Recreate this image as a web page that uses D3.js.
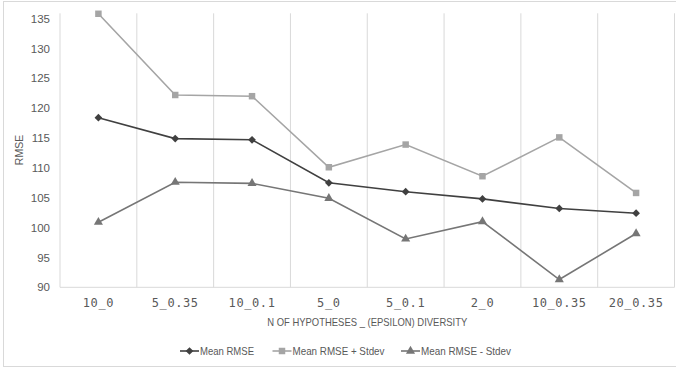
<!DOCTYPE html>
<html>
<head>
<meta charset="utf-8">
<script src="https://cdn.jsdelivr.net/npm/d3@7/dist/d3.min.js"></script>
<style>
  html, body { margin: 0; padding: 0; background: #fff; }
  svg { display: block; }
</style>
</head>
<body>
<svg id="chart" width="676" height="369"></svg>
<script>
// Categories: number of hypotheses _ epsilon diversity
const categories = ["10_0", "5_0.35", "10_0.1", "5_0", "5_0.1", "2_0", "10_0.35", "20_0.35"];
const meanRmse     = [118.4, 114.9, 114.7, 107.5, 106.0, 104.8, 103.2, 102.4];
const meanPlusStd  = [135.8, 122.2, 122.0, 110.1, 113.9, 108.6, 115.1, 105.8];
const meanMinusStd = [100.9, 107.6, 107.4, 104.9, 98.1, 101.0, 91.3, 99.0];
const yTicks = [90, 95, 100, 105, 110, 115, 120, 125, 130, 135];

// square diamond (a square turned 45 degrees)
const symbolSquareDiamond = {
  draw(context, size) {
    const r = Math.sqrt(size / 2);
    context.moveTo(0, -r);
    context.lineTo(r, 0);
    context.lineTo(0, r);
    context.lineTo(-r, 0);
    context.closePath();
  }
};

const series = [
  { name: "Mean RMSE", values: meanRmse, color: "#404040", symbol: symbolSquareDiamond, size: 30 },
  { name: "Mean RMSE + Stdev", values: meanPlusStd, color: "#a5a5a5", symbol: d3.symbolSquare, size: 42 },
  { name: "Mean RMSE - Stdev", values: meanMinusStd, color: "#767676", symbol: d3.symbolTriangle, size: 36 }
];

const svg = d3.select("#chart");
const W = 676;
const plot = { left: 60, right: 674.5, top: 13.3, bottom: 287.3 };
const textFont = "Liberation Sans, Arial, sans-serif";

// chart frame
svg.append("rect")
  .attr("x", 3.5).attr("y", 1.5).attr("width", W + 4).attr("height", 365)
  .attr("fill", "none").attr("stroke", "#d9d9d9").attr("stroke-width", 1);

const x = d3.scaleBand().domain(categories).range([plot.left, plot.right]).padding(0);
const y = d3.scaleLinear().domain([90, 135.88]).range([plot.bottom, plot.top]);

// vertical gridlines between categories
const bounds = categories.map(c => x(c)).concat([x(categories[categories.length - 1]) + x.bandwidth()]);
svg.append("g").selectAll("line").data(bounds).join("line")
  .attr("x1", d => d).attr("x2", d => d)
  .attr("y1", plot.top).attr("y2", plot.bottom)
  .attr("stroke", "#d9d9d9").attr("stroke-width", 1);

// baseline
svg.append("line")
  .attr("x1", plot.left).attr("x2", plot.right)
  .attr("y1", plot.bottom).attr("y2", plot.bottom)
  .attr("stroke", "#d9d9d9").attr("stroke-width", 1);

// y axis labels
const yAxis = d3.axisLeft(y).tickValues(yTicks).tickSize(0).tickPadding(10);
const yg = svg.append("g").attr("transform", `translate(${plot.left},0)`).call(yAxis);
yg.select(".domain").remove();
yg.selectAll("text")
  .attr("font-family", textFont)
  .attr("font-size", 11.5).attr("fill", "#595959");

// x axis labels
const xAxis = d3.axisBottom(x).tickSize(0).tickPadding(11);
const xg = svg.append("g").attr("transform", `translate(0,${plot.bottom})`).call(xAxis);
xg.select(".domain").remove();
xg.selectAll("text")
  .attr("font-family", "DejaVu Sans Mono, monospace")
  .attr("font-size", 12).attr("fill", "#595959")
  .attr("letter-spacing", "0.6px");

// axis titles
svg.append("text")
  .attr("transform", "translate(23,150) rotate(-90)")
  .attr("text-anchor", "middle")
  .attr("font-family", textFont)
  .attr("font-size", 10.5).attr("fill", "#595959")
  .text("RMSE");

svg.append("text")
  .attr("x", (plot.left + plot.right) / 2).attr("y", 326)
  .attr("text-anchor", "middle")
  .attr("font-family", textFont)
  .attr("font-size", 11).attr("fill", "#595959")
  .attr("textLength", 200).attr("lengthAdjust", "spacingAndGlyphs")
  .text("N OF HYPOTHESES _ (EPSILON) DIVERSITY");

// series lines and markers
const line = d3.line().x((d, i) => x(categories[i]) + x.bandwidth() / 2).y(d => y(d));
series.forEach(s => {
  svg.append("path")
    .datum(s.values)
    .attr("d", line)
    .attr("fill", "none").attr("stroke", s.color).attr("stroke-width", 1.6);
  svg.append("g").selectAll("path").data(s.values).join("path")
    .attr("transform", (d, i) => `translate(${x(categories[i]) + x.bandwidth() / 2},${y(d)})`)
    .attr("d", d3.symbol().type(s.symbol).size(s.size))
    .attr("fill", s.color);
});

// legend
const legendItems = [
  { s: series[0], x: 180, w: 54 },
  { s: series[1], x: 272.5, w: 92 },
  { s: series[2], x: 401, w: 90 }
];
const lg = svg.append("g");
legendItems.forEach(it => {
  const g = lg.append("g").attr("transform", `translate(${it.x},351)`);
  g.append("line").attr("x1", 0).attr("x2", 19).attr("y1", 0).attr("y2", 0)
    .attr("stroke", it.s.color).attr("stroke-width", 1.6);
  g.append("path").attr("transform", "translate(9.5,0)")
    .attr("d", d3.symbol().type(it.s.symbol).size(it.s.size)).attr("fill", it.s.color);
  g.append("text").attr("x", 20).attr("y", 4)
    .attr("font-family", textFont)
    .attr("font-size", 11).attr("fill", "#595959")
    .attr("textLength", it.w).attr("lengthAdjust", "spacingAndGlyphs")
    .text(it.s.name);
});
</script>
</body>
</html>
